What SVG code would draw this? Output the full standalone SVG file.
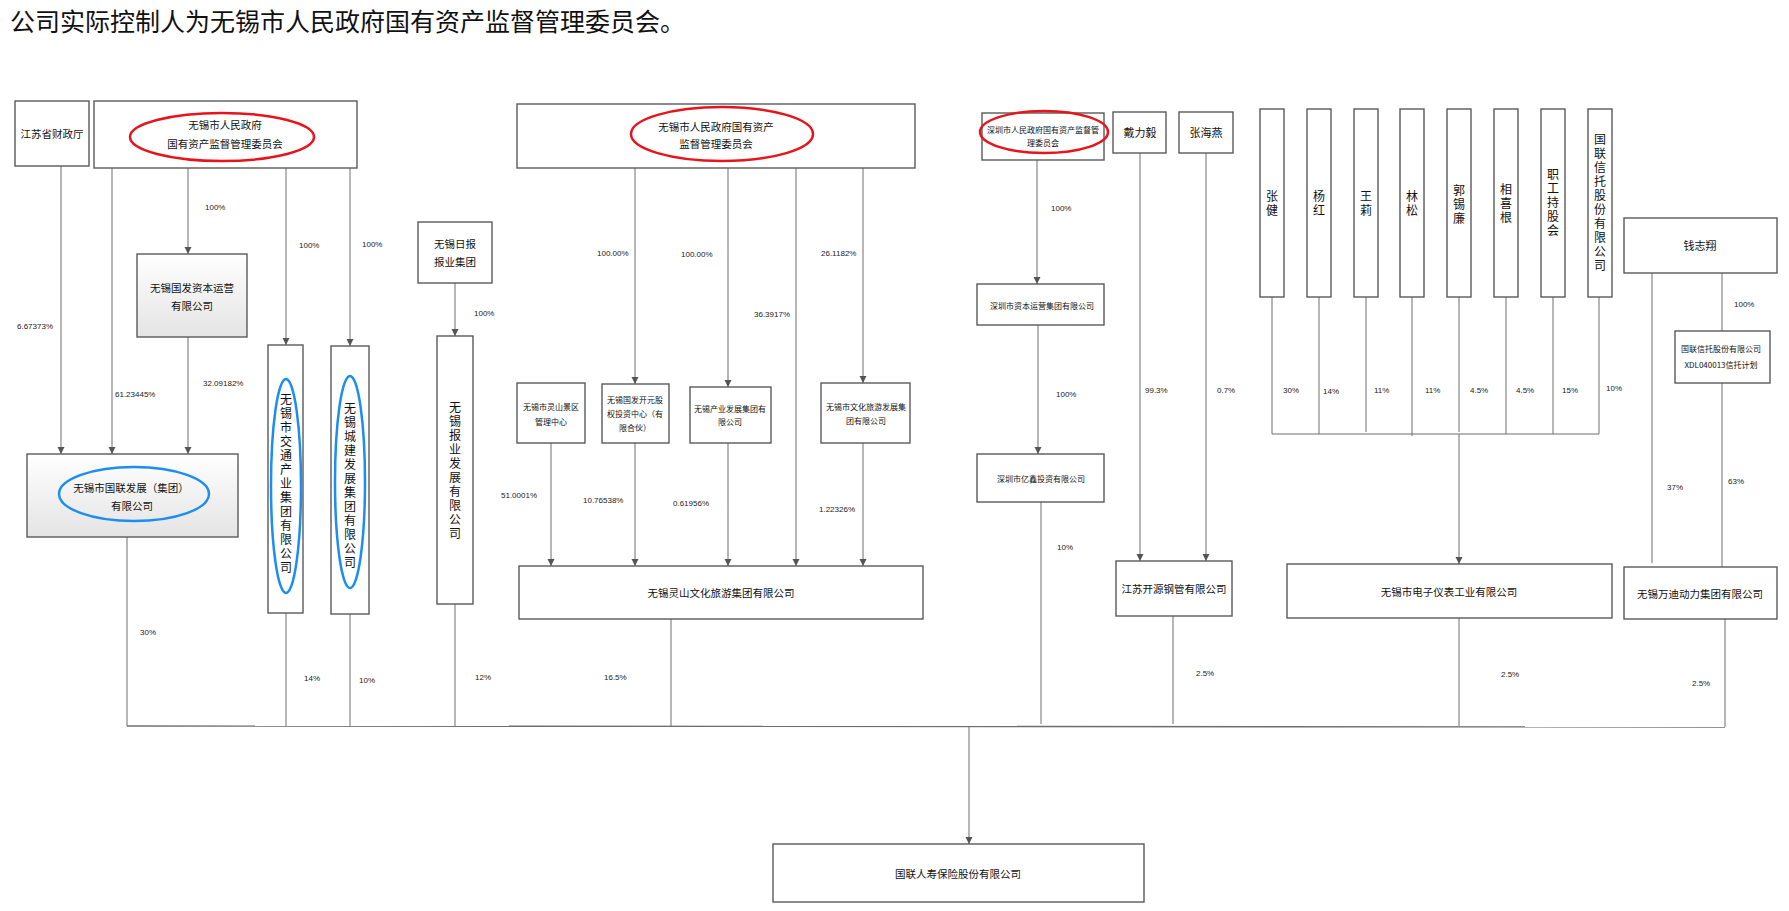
<svg xmlns="http://www.w3.org/2000/svg" width="1789" height="911" viewBox="0 0 1789 911">
<style>
.b{fill:#fff;stroke:#5a5a5a;stroke-width:1.4}
.g{fill:url(#grad);stroke:#5a5a5a;stroke-width:1.4}
.t{font-family:"Noto Sans CJK SC","Liberation Sans",sans-serif;font-size:10.5px;fill:#111;text-anchor:middle;dominant-baseline:central}
.s{font-size:8px}
.v{font-family:"Noto Sans CJK SC","Liberation Sans",sans-serif;font-size:12px;fill:#111;text-anchor:middle;writing-mode:vertical-rl;text-orientation:upright;letter-spacing:2px}
.p{font-family:"Liberation Sans",Arial,sans-serif;font-size:8px;fill:#222;dominant-baseline:central}
.c line,.c path{stroke:#6e6e6e;stroke-width:1;fill:none}
.a{marker-end:url(#arr)}
.re{fill:none;stroke:#e8141b;stroke-width:2.5}
.be{fill:none;stroke:#1b8ef0;stroke-width:2.5}
.title{font-family:"Noto Sans CJK SC",sans-serif;font-size:25px;fill:#111}
</style>
<defs>
<linearGradient id="grad" x1="0" y1="0" x2="0" y2="1">
<stop offset="0" stop-color="#ffffff"/>
<stop offset="1" stop-color="#e4e4e4"/>
</linearGradient>
<marker id="arr" markerUnits="userSpaceOnUse" markerWidth="8" markerHeight="8" refX="7" refY="3.5" orient="auto">
<path d="M0,0 L7,3.5 L0,7 z" fill="#555"/>
</marker>
</defs>
<rect width="1789" height="911" fill="#fff"/>
<text class="title" x="10" y="31">公司实际控制人为无锡市人民政府国有资产监督管理委员会。</text>

<g class="c" id="connectors">
<line class="a" x1="61" y1="166" x2="61" y2="454"/>
<line class="a" x1="112" y1="168" x2="112" y2="454"/>
<line class="a" x1="188" y1="168" x2="188" y2="254"/>
<line class="a" x1="188" y1="337" x2="188" y2="454"/>
<line class="a" x1="286" y1="168" x2="286" y2="345"/>
<line class="a" x1="350" y1="168" x2="350" y2="346"/>
<line class="a" x1="455" y1="283" x2="455" y2="336"/>
<line class="a" x1="635" y1="168" x2="635" y2="384"/>
<line class="a" x1="728" y1="168" x2="728" y2="387"/>
<line class="a" x1="796" y1="168" x2="796" y2="566"/>
<line class="a" x1="863" y1="168" x2="863" y2="383"/>
<line class="a" x1="551" y1="443" x2="551" y2="566"/>
<line class="a" x1="635" y1="443" x2="635" y2="566"/>
<line class="a" x1="728" y1="443" x2="728" y2="566"/>
<line class="a" x1="863" y1="443" x2="863" y2="566"/>
<line class="a" x1="1037" y1="160" x2="1037" y2="284"/>
<line class="a" x1="1038" y1="325" x2="1038" y2="454"/>
<line class="a" x1="1140" y1="153" x2="1140" y2="561"/>
<line class="a" x1="1206" y1="153" x2="1206" y2="561"/>
<line x1="1272" y1="297" x2="1272" y2="434"/>
<line x1="1319" y1="297" x2="1319" y2="434"/>
<line x1="1366" y1="297" x2="1366" y2="432"/>
<line x1="1412" y1="297" x2="1412" y2="436"/>
<line x1="1459" y1="297" x2="1459" y2="432"/>
<line x1="1506" y1="297" x2="1506" y2="434"/>
<line x1="1553" y1="297" x2="1553" y2="434"/>
<line x1="1599" y1="297" x2="1599" y2="434"/>
<line x1="1272" y1="434" x2="1599" y2="434"/>
<line class="a" x1="1459" y1="434" x2="1459" y2="564"/>
<line x1="1652" y1="273" x2="1652" y2="563"/>
<line x1="1722" y1="273" x2="1722" y2="331"/>
<line x1="1722" y1="383" x2="1722" y2="567"/>
<line x1="127" y1="537" x2="127" y2="726"/>
<line x1="286" y1="613" x2="286" y2="726"/>
<line x1="350" y1="614" x2="350" y2="726"/>
<line x1="455" y1="604" x2="455" y2="726"/>
<line x1="671" y1="619" x2="671" y2="726"/>
<line x1="1041" y1="502" x2="1041" y2="724"/>
<line x1="1173" y1="616" x2="1173" y2="724"/>
<line x1="1459" y1="618" x2="1459" y2="726"/>
<line x1="1725" y1="619" x2="1725" y2="727"/>
<line x1="127" y1="726" x2="1725" y2="727" style="stroke-width:1.4"/>
<line class="a" x1="969" y1="727" x2="969" y2="844"/>
</g>

<g id="labels">
<text class="p" x="17" y="326">6.67373%</text>
<text class="p" x="115" y="394">61.23445%</text>
<text class="p" x="205" y="207">100%</text>
<text class="p" x="203" y="383">32.09182%</text>
<text class="p" x="299" y="245">100%</text>
<text class="p" x="362" y="244">100%</text>
<text class="p" x="474" y="313">100%</text>
<text class="p" x="597" y="253">100.00%</text>
<text class="p" x="681" y="254">100.00%</text>
<text class="p" x="754" y="314">36.3917%</text>
<text class="p" x="821" y="253">26.1182%</text>
<text class="p" x="501" y="495">51.0001%</text>
<text class="p" x="583" y="500">10.76538%</text>
<text class="p" x="673" y="503">0.61956%</text>
<text class="p" x="819" y="509">1.22326%</text>
<text class="p" x="140" y="632">30%</text>
<text class="p" x="304" y="678">14%</text>
<text class="p" x="359" y="680">10%</text>
<text class="p" x="475" y="677">12%</text>
<text class="p" x="604" y="677">16.5%</text>
<text class="p" x="1051" y="208">100%</text>
<text class="p" x="1056" y="394">100%</text>
<text class="p" x="1057" y="547">10%</text>
<text class="p" x="1145" y="390">99.3%</text>
<text class="p" x="1217" y="390">0.7%</text>
<text class="p" x="1283" y="390">30%</text>
<text class="p" x="1323" y="391">14%</text>
<text class="p" x="1374" y="390">11%</text>
<text class="p" x="1425" y="390">11%</text>
<text class="p" x="1470" y="390">4.5%</text>
<text class="p" x="1516" y="390">4.5%</text>
<text class="p" x="1562" y="390">15%</text>
<text class="p" x="1606" y="388">10%</text>
<text class="p" x="1734" y="304">100%</text>
<text class="p" x="1667" y="487">37%</text>
<text class="p" x="1728" y="481">63%</text>
<text class="p" x="1196" y="673">2.5%</text>
<text class="p" x="1501" y="674">2.5%</text>
<text class="p" x="1692" y="683">2.5%</text>
</g>

<g id="n-jiangsu"><rect class="b" x="15" y="101" width="74" height="65"/><text class="t" x="52" y="133">江苏省财政厅</text></g>
<g id="n-wuxi-sasac1"><rect class="b" x="94" y="101" width="263" height="67"/><text class="t" x="225" y="124">无锡市人民政府</text><text class="t" x="225" y="143">国有资产监督管理委员会</text><ellipse class="re" cx="222" cy="137" rx="92" ry="24"/></g>
<g id="n-guofa"><rect class="g" x="137" y="254" width="110" height="83"/><text class="t" x="192" y="287">无锡国发资本运营</text><text class="t" x="192" y="305">有限公司</text></g>
<g id="n-guolian-fz"><rect class="g" x="27" y="454" width="211" height="83"/><text class="t" x="131" y="487">无锡市国联发展（集团）</text><text class="t" x="132" y="505">有限公司</text><ellipse class="be" cx="134" cy="494" rx="75" ry="27"/></g>
<g id="n-jiaotong"><rect class="b" x="268" y="345" width="35" height="268"/><text class="v" x="286" y="484">无锡市交通产业集团有限公司</text><ellipse class="be" cx="286" cy="486" rx="15" ry="107"/></g>
<g id="n-chengjian"><rect class="b" x="331" y="346" width="38" height="268"/><text class="v" x="350" y="486">无锡城建发展集团有限公司</text><ellipse class="be" cx="350" cy="482" rx="15" ry="106"/></g>
<g id="n-ribao"><rect class="b" x="418" y="222" width="74" height="61"/><text class="t" x="455" y="243">无锡日报</text><text class="t" x="455" y="261">报业集团</text></g>
<g id="n-baoye"><rect class="b" x="437" y="336" width="36" height="268"/><text class="v" x="455" y="471">无锡报业发展有限公司</text></g>
<g id="n-wuxi-sasac2"><rect class="b" x="517" y="104" width="398" height="64"/><text class="t" x="716" y="126">无锡市人民政府国有资产</text><text class="t" x="716" y="143">监督管理委员会</text><ellipse class="re" cx="722" cy="134" rx="91" ry="27"/></g>
<g id="n-lingshan-jq"><rect class="b" x="517" y="383" width="68" height="60"/><text class="t s" x="551" y="406">无锡市灵山景区</text><text class="t s" x="551" y="421">管理中心</text></g>
<g id="n-kaiyuan"><rect class="b" x="602" y="384" width="67" height="59"/><text class="t s" x="635" y="399">无锡国发开元股</text><text class="t s" x="635" y="413">权投资中心（有</text><text class="t s" x="635" y="427">限合伙）</text></g>
<g id="n-chanye"><rect class="b" x="690" y="387" width="81" height="56"/><text class="t s" x="730" y="408">无锡产业发展集团有</text><text class="t s" x="730" y="421">限公司</text></g>
<g id="n-wenlv"><rect class="b" x="821" y="383" width="89" height="60"/><text class="t s" x="866" y="406">无锡市文化旅游发展集</text><text class="t s" x="866" y="420">团有限公司</text></g>
<g id="n-lingshan"><rect class="b" x="519" y="566" width="404" height="53"/><text class="t" x="721" y="592">无锡灵山文化旅游集团有限公司</text></g>
<g id="n-sz-sasac"><rect class="b" x="982" y="113" width="122" height="47"/><text class="t s" x="1043" y="129">深圳市人民政府国有资产监督管</text><text class="t s" x="1043" y="142">理委员会</text><ellipse class="re" cx="1044" cy="132" rx="64" ry="21"/></g>
<g id="n-sz-capital"><rect class="b" x="977" y="284" width="127" height="41"/><text class="t s" x="1042" y="305">深圳市资本运营集团有限公司</text></g>
<g id="n-yixin"><rect class="b" x="977" y="454" width="127" height="48"/><text class="t s" x="1041" y="478">深圳市亿鑫投资有限公司</text></g>
<g id="n-dai"><rect class="b" x="1113" y="112" width="53" height="41"/><text class="t" x="1140" y="132" style="font-size:11px">戴力毅</text></g>
<g id="n-zhanghy"><rect class="b" x="1179" y="112" width="54" height="41"/><text class="t" x="1206" y="132" style="font-size:11px">张海燕</text></g>
<g id="n-kaiyuan-gg"><rect class="b" x="1116" y="561" width="116" height="55"/><text class="t" x="1174" y="588">江苏开源钢管有限公司</text></g>
<g id="n-zhangjian"><rect class="b" x="1260" y="109" width="24" height="188"/><text class="v" x="1272" y="204">张健</text></g>
<g id="n-yanghong"><rect class="b" x="1307" y="109" width="24" height="188"/><text class="v" x="1319" y="204">杨红</text></g>
<g id="n-wangli"><rect class="b" x="1354" y="109" width="24" height="188"/><text class="v" x="1366" y="204">王莉</text></g>
<g id="n-linsong"><rect class="b" x="1400" y="109" width="24" height="188"/><text class="v" x="1412" y="204">林松</text></g>
<g id="n-guoxilian"><rect class="b" x="1447" y="109" width="24" height="188"/><text class="v" x="1459" y="205">郭锡廉</text></g>
<g id="n-xiangxigen"><rect class="b" x="1494" y="109" width="24" height="188"/><text class="v" x="1506" y="204">相喜根</text></g>
<g id="n-zhigong"><rect class="b" x="1541" y="109" width="24" height="188"/><text class="v" x="1553" y="203">职工持股会</text></g>
<g id="n-guolian-xt"><rect class="b" x="1588" y="109" width="24" height="188"/><text class="v" x="1600" y="203">国联信托股份有限公司</text></g>
<g id="n-qian"><rect class="b" x="1624" y="218" width="153" height="55"/><text class="t" x="1700" y="245" style="font-size:11px">钱志翔</text></g>
<g id="n-xdl"><rect class="b" x="1675" y="331" width="95" height="52"/><text class="t s" x="1721" y="348">国联信托股份有限公司</text><text class="t s" x="1721" y="364">XDL040013信托计划</text></g>
<g id="n-dianzi"><rect class="b" x="1287" y="564" width="325" height="54"/><text class="t" x="1449" y="591">无锡市电子仪表工业有限公司</text></g>
<g id="n-wandi"><rect class="b" x="1624" y="567" width="153" height="52"/><text class="t" x="1700" y="593">无锡万迪动力集团有限公司</text></g>
<g id="n-guolian-rs"><rect class="b" x="773" y="844" width="371" height="58"/><text class="t" x="958" y="873">国联人寿保险股份有限公司</text></g>
</svg>
